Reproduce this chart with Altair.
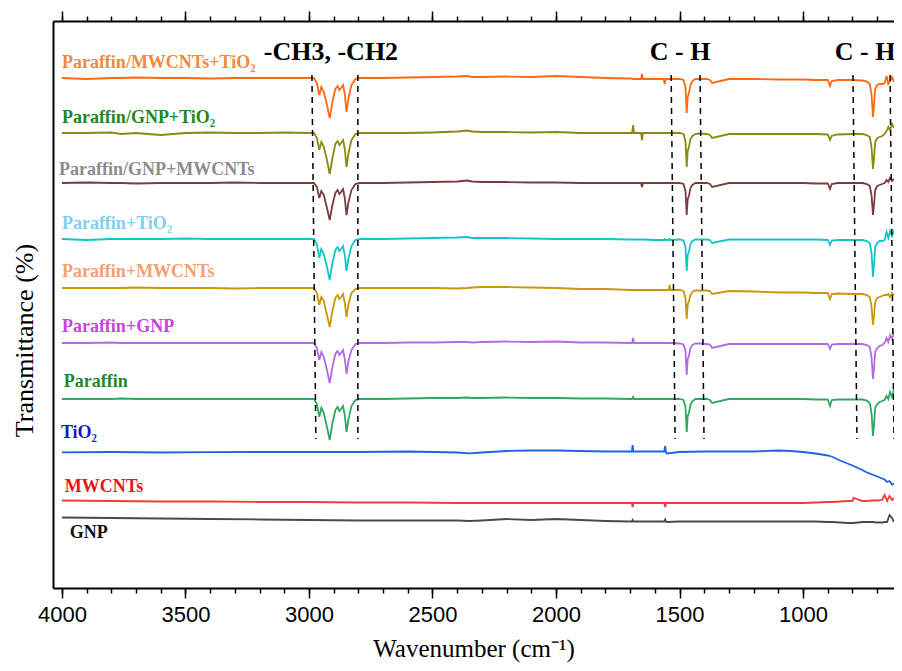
import altair as alt
import pandas as pd

# ---------------- data (transmittance in arbitrary offset units) ----------------
GRID_P = [4000, 3900, 3800, 3760, 3700, 3600, 3500, 3400, 3300, 3200, 3100, 3000,
          2980, 2968, 2958, 2950, 2940, 2928, 2916, 2905, 2893, 2884, 2877, 2870, 2862, 2855, 2848, 2840, 2828, 2812, 2795,
          2700, 2600, 2500, 2400, 2360, 2340, 2300, 2200, 2100, 2000, 1900, 1800, 1700,
          1692, 1688, 1684, 1656, 1652, 1648, 1600, 1564, 1560, 1556, 1544, 1540, 1536,
          1500, 1484, 1476, 1471, 1467, 1462, 1456, 1448, 1436, 1420, 1390, 1377, 1368, 1300, 1200, 1100, 1000, 950, 900, 891, 884, 860, 800,
          760, 742, 730, 723, 717, 713, 708, 700, 690, 680, 670, 662, 655, 648, 640, 632]

PAR_MWCNT_TIO2 = [510, 509, 510, 510, 510.5, 510, 510, 509.5, 510, 510, 510, 510,
                  510, 505, 493, 501, 496, 484, 470, 486, 499, 502, 498, 500, 503, 494, 476, 490, 503, 509, 510,
                  510, 510.5, 511, 511.5, 512, 511, 511, 511.5, 511, 512, 511, 510, 509.5,
                  509.5, 509, 509, 509, 514, 509, 509, 509, 504, 509, 509, 509, 509,
                  509, 508, 501, 475, 491, 495, 503, 507, 509, 509, 509, 508, 505, 509, 509, 508.5, 508.5, 508, 508, 502, 507, 508, 508,
                  507.5, 506.5, 504, 494, 471, 483, 499, 503, 504, 504, 505, 512, 504, 507, 511, 506]

PAR_GNP_TIO2 = [455, 455, 455.5, 454, 455, 453, 455, 455.5, 455, 455, 455.5, 455,
                455, 450, 438, 446, 441, 429, 414, 430, 444, 447, 443, 445, 448, 439, 421, 435, 448, 454, 455,
                455, 455, 455.5, 456.5, 457.5, 456.5, 456, 456, 455.5, 456, 455, 455, 455,
                455, 463, 455, 455, 448, 455, 455, 455, 455, 455, 455, 455, 455,
                455, 454, 447, 421, 437, 441, 449, 452, 454, 454.5, 454, 453, 450, 454, 454, 454, 454, 454, 453.5, 448, 452, 453.5, 454,
                454, 453, 451, 441, 419, 430, 446, 450, 451, 452, 454, 457, 461, 458, 464, 460]

PAR_GNP_MWCNT = [405, 405.5, 405, 405, 404.5, 405, 405, 405, 405.5, 405, 405, 405,
                 405, 401, 390, 397, 393, 381, 368, 383, 395, 398, 394, 396, 399, 390, 373, 386, 398, 404, 405,
                 405, 405.5, 406, 406.5, 407.5, 406.5, 406, 406, 405.5, 405.5, 405, 405, 405,
                 405, 405, 405, 405, 401, 405, 405, 405, 405, 405, 405, 405, 405,
                 405, 404, 397, 373, 389, 392, 400, 403, 405, 405, 405, 404, 401, 405, 405, 405, 405, 404.5, 404.5, 399, 404, 405, 405,
                 405, 404, 402, 393, 373, 383, 398, 402, 403, 404, 405, 408, 406, 410, 407, 409]

PAR_TIO2 = [349, 348, 349, 349, 349, 349, 349.5, 349, 349, 349, 349, 349,
            349, 344, 330, 339, 334, 322, 308, 325, 338, 341, 337, 339, 342, 333, 317, 330, 342, 348, 349,
            349, 349.5, 350, 350.5, 351, 350, 350, 350, 349.5, 349, 349, 349, 348.5,
            348.5, 348.5, 348.5, 348.5, 348.5, 348.5, 348, 348, 349, 348, 348, 349, 348,
            348.5, 347.5, 341, 317, 333, 336, 344, 347, 348.5, 348.5, 348.5, 348, 345, 348.5, 348.5, 348.5, 348.5, 348.5, 348, 343, 347.5, 348, 348,
            348, 347, 345, 335, 311, 324, 341, 345, 347, 347, 348, 356, 350, 357, 352, 358]

PAR_MWCNT = [300, 300, 300, 300, 300.5, 300, 300, 300, 299.5, 300, 300, 300,
             300, 295, 283, 291, 287, 274, 261, 277, 290, 293, 289, 291, 294, 285, 271, 284, 295, 299, 300,
             300, 300, 300, 299.5, 300, 300.5, 301, 301, 300.5, 300, 299, 299, 298,
             298, 298, 298, 298, 298, 298, 298, 298, 298, 298, 298, 303, 298,
             298, 297, 290, 269, 283, 287, 293, 296, 297.5, 297.5, 297.5, 297, 294, 297, 296.5, 295.5, 295.5, 295, 295, 289, 294, 294.5, 294,
             294, 293, 291, 282, 263, 272, 286, 290, 291, 292, 293, 293, 294, 291, 295, 293]

PAR_GNP = [245, 245, 245.5, 245, 245, 245, 245, 245, 245, 245, 245, 245,
           245, 240, 228, 236, 231, 219, 205, 221, 234, 237, 233, 235, 238, 229, 214, 227, 238, 244, 245,
           245, 245.5, 245.5, 246, 246, 245.5, 246, 246.5, 246, 246.5, 245.5, 245.5, 245,
           245, 250, 245, 245, 245, 245, 245, 245, 245, 245, 245, 245, 245,
           244.5, 243.5, 237, 213, 229, 232, 240, 243, 244.5, 244.5, 244, 243.5, 240, 244, 244, 244, 244, 244, 244, 239, 243.5, 244, 244,
           244, 243, 241, 231, 209, 220, 236, 240, 242, 243, 245, 250, 246, 253, 249, 256]

PARAFFIN = [189, 189, 189, 189.5, 189, 189, 189, 189, 189, 189, 189, 189,
            189, 184, 171, 180, 175, 162, 148, 165, 178, 181, 177, 179, 182, 173, 156, 169, 182, 188, 189,
            189, 189.5, 190, 190, 190.5, 190, 190, 190.5, 190, 190, 189.5, 189.5, 189,
            189, 191, 189, 189, 189, 189, 189, 189, 189, 189, 189, 189, 189,
            189, 188, 181, 156, 172, 175, 183, 187, 189, 189, 189, 188, 185, 189, 189, 189, 189, 188.5, 188.5, 182, 188, 188.5, 188.5,
            188.5, 187.5, 185, 175, 152, 163, 180, 184, 186, 187, 188, 192, 189, 196, 191, 199]

GRID_R = [4000, 3800, 3600, 3400, 3200, 3000, 2800, 2600, 2400, 2350,
          2300, 2200, 2100, 2000, 1900, 1800, 1700, 1693, 1690, 1687,
          1600, 1562, 1558, 1555, 1552, 1500, 1400, 1300, 1200, 1100,
          1050, 1000, 950, 900, 880, 850, 820, 800, 796, 760,
          740, 720, 700, 680, 670, 660, 650, 640, 632]

TIO2 = [135.7, 136, 135.5, 135.8, 136, 136, 136, 136.5, 135.5, 134.7,
        135.5, 137, 137.5, 137.5, 137, 136.5, 136.5, 136.5, 143, 136.5,
        136.5, 136.5, 142, 136, 134.5, 136, 136.5, 136.5, 136.5, 137.5,
        137, 136, 134.5, 132.5, 131, 127.5, 124.5, 122.5, 122, 118,
        115.3, 113.5, 111.5, 109.5, 108.5, 106, 107, 103.5, 104.5]

MWCNTS = [87.5, 87, 86.5, 86.5, 86, 86, 85.5, 85.5, 85, 85,
          85, 85, 85, 85, 85, 85, 85, 85, 81, 85,
          85, 85, 81, 85, 85, 85, 85, 85, 85, 85,
          85, 85, 85.5, 86, 86, 86.5, 87, 87, 90, 87,
          87, 87.5, 87.5, 88, 93, 87, 92, 88, 90]

GNP = [70.5, 70, 69.5, 69, 68.5, 68, 67.5, 67.5, 67.5, 67,
       67.5, 69, 68, 69, 68, 67, 66.5, 66.5, 68, 66.5,
       66.5, 66.5, 68.5, 66.5, 66, 66.5, 66.5, 66.5, 66.5, 66.5,
       66.5, 66.5, 66.5, 66, 66, 65.5, 65, 65, 65, 66,
       66, 66, 65.5, 65.5, 66, 66, 73, 70, 66]

SERIES = ["Paraffin/MWCNTs+TiO2", "Paraffin/GNP+TiO2", "Paraffin/GNP+MWCNTs", "Paraffin+TiO2",
          "Paraffin+MWCNTs", "Paraffin+GNP", "Paraffin", "TiO2", "MWCNTs", "GNP"]
SERIES_VALUES = [PAR_MWCNT_TIO2, PAR_GNP_TIO2, PAR_GNP_MWCNT, PAR_TIO2, PAR_MWCNT, PAR_GNP, PARAFFIN,
                 TIO2, MWCNTS, GNP]
SERIES_GRID = [GRID_P] * 7 + [GRID_R] * 3
LINE_COLORS = ["#FF6A10", "#8A8A12", "#7A3C3E", "#12C6C8", "#C9960C", "#B46AE0", "#2EA860",
               "#1C64E0", "#F03C3C", "#4A4A4A"]

LABELS = ["Paraffin/MWCNTs+TiO\u2082", "Paraffin/GNP+TiO\u2082", "Paraffin/GNP+MWCNTs", "Paraffin+TiO\u2082",
          "Paraffin+MWCNTs", "Paraffin+GNP", "Paraffin", "TiO\u2082", "MWCNTs", "GNP"]
LABEL_WN = [4000, 4000, 4012, 4000, 4000, 4000, 3992, 4004, 3988, 3968]
LABEL_T = [520, 465, 413, 359.5, 311, 256, 201, 150, 96.5, 50]
LABEL_COLORS = ["#F5883A", "#1A8A1A", "#8C8C8C", "#7FD0F0", "#F4A070", "#CC3FE0", "#1A8A2A",
                "#1515D5", "#E81515", "#111111"]

ANNOT_TEXT = ["-CH3, -CH2", "C - H", "C - H"]
ANNOT_WN = [2911, 1498, 749]
ANNOT_T = [528, 528, 528]

DASH_WN_TOP = [2988, 2802, 1534, 1417, 798, 648]
DASH_WN_BOTTOM = [2972, 2802, 1518, 1401, 782, 632]
DASH_T_TOP = [513] * 6
DASH_T_BOTTOM = [149] * 6

MAJOR_TICKS = [4000, 3500, 3000, 2500, 2000, 1500, 1000]
MINOR_TICKS = [4000, 3900, 3800, 3700, 3600, 3500, 3400, 3300, 3200, 3100, 3000, 2900, 2800, 2700,
               2600, 2500, 2400, 2300, 2200, 2100, 2000, 1900, 1800, 1700, 1600, 1500, 1400, 1300,
               1200, 1100, 1000, 900, 800, 700]

# ---------------- tables ----------------
rows = []
for name, color, grid, vals in zip(SERIES, LINE_COLORS, SERIES_GRID, SERIES_VALUES):
    assert len(grid) == len(vals), (name, len(grid), len(vals))
    for w, v in zip(grid, vals):
        rows.append({"series": name, "color": color, "wn": w, "t": v})
df = pd.DataFrame(rows)

lab_df = pd.DataFrame({"txt": LABELS, "wn": LABEL_WN, "t": LABEL_T, "color": LABEL_COLORS})
ann_df = pd.DataFrame({"txt": ANNOT_TEXT, "wn": ANNOT_WN, "t": ANNOT_T})
dash_df = pd.DataFrame({"wn": DASH_WN_TOP, "wn2": DASH_WN_BOTTOM, "t": DASH_T_TOP, "t2": DASH_T_BOTTOM})

xscale = alt.Scale(domain=[632, 4036], reverse=True, nice=False, zero=False)
yscale = alt.Scale(domain=[0, 567], nice=False, zero=False)

SERIF = "Liberation Serif"
SANS = "Liberation Sans"

lines = alt.Chart(df).mark_line(strokeWidth=1.8).encode(
    x=alt.X("wn:Q", scale=xscale,
            axis=alt.Axis(orient="bottom", values=MAJOR_TICKS, format="d", tickSize=10, tickWidth=1.5,
                          tickColor="black", domainColor="black", domainWidth=2,
                          labelFont=SANS, labelFontSize=22, labelColor="black", labelPadding=6,
                          labelFlush=False, labelOverlap=False, grid=False,
                          title="Wavenumber (cm\u207b\u00b9)", titleFont=SERIF, titleFontSize=25,
                          titleFontWeight="normal", titleColor="black", titleY=68,
                          titleBaseline="alphabetic")),
    y=alt.Y("t:Q", scale=yscale,
            axis=alt.Axis(orient="left", ticks=False, labels=False, grid=False,
                          domainColor="black", domainWidth=2,
                          title="Transmittance (%)", titleFont=SERIF, titleFontSize=26,
                          titleFontWeight="normal", titleColor="black", titleX=-21, titleY=319,
                          titleBaseline="alphabetic")),
    color=alt.Color("color:N", scale=None),
    detail="series:N",
)

dashes = alt.Chart(dash_df).mark_rule(strokeDash=[6, 5], strokeWidth=1.5, color="black").encode(
    x=alt.X("wn:Q", scale=xscale,
            axis=alt.Axis(orient="bottom", values=MINOR_TICKS, tickSize=5, tickWidth=1.5,
                          tickColor="black", domain=False, labels=False, grid=False),
            title=None),
    x2="wn2:Q",
    y=alt.Y("t:Q", scale=yscale, axis=None),
    y2="t2:Q",
)

annots = alt.Chart(ann_df).mark_text(font=SERIF, fontSize=26, fontWeight="bold", color="black",
                                     align="center", baseline="alphabetic").encode(
    x=alt.X("wn:Q", scale=xscale,
            axis=alt.Axis(orient="top", values=MAJOR_TICKS, tickSize=10, tickWidth=1.5,
                          tickColor="black", domainColor="black", domainWidth=2,
                          labels=False, grid=False),
            title=None),
    y=alt.Y("t:Q", scale=yscale, axis=None),
    text="txt:N",
)

labels = alt.Chart(lab_df).mark_text(font=SERIF, fontSize=18, fontWeight="bold",
                                     align="left", baseline="alphabetic").encode(
    x=alt.X("wn:Q", scale=xscale,
            axis=alt.Axis(orient="top", values=MINOR_TICKS, tickSize=5, tickWidth=1.5,
                          tickColor="black", domain=False, labels=False, grid=False),
            title=None),
    y=alt.Y("t:Q", scale=yscale, axis=None),
    text="txt:N",
    color=alt.Color("color:N", scale=None),
)

chart = alt.layer(lines, dashes, annots, labels).resolve_axis(
    x="independent", y="independent"
).properties(
    width=841, height=567,
    autosize=alt.AutoSizeParams(type="none"),
    padding={"left": 45, "top": 13, "right": 0, "bottom": 75},
).configure_view(stroke=None).configure(background="white")

chart.save("out.html", embed_options={"renderer": "svg", "actions": False})
